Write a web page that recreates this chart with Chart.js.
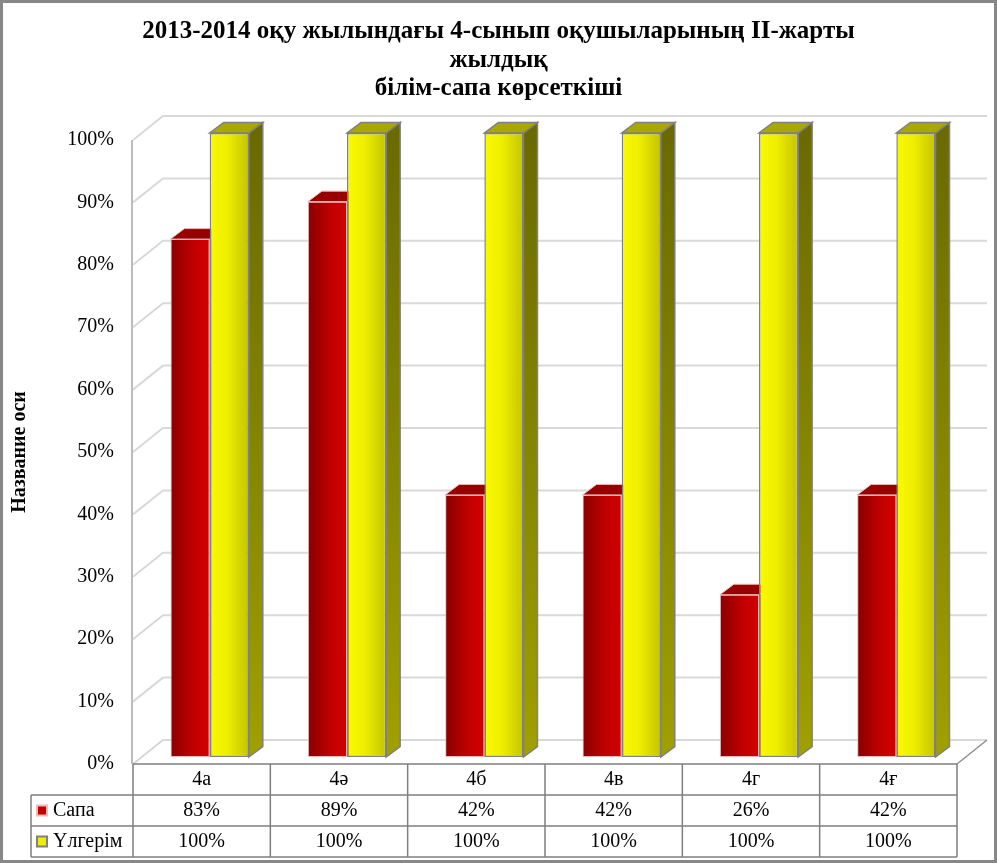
<!DOCTYPE html>
<html>
<head>
<meta charset="utf-8">
<script src="https://cdn.jsdelivr.net/npm/chart.js@4.4.1/dist/chart.umd.min.js"></script>
<style>
  body { margin: 0; background: #fff; }
  canvas { display: block; }
</style>
</head>
<body>
<canvas id="gradeChart" width="997" height="863"></canvas>
<script>
// data
const categories = ['4а', '4ә', '4б', '4в', '4г', '4ғ'];
const seriesNames = ['Сапа', 'Үлгерім'];
const sapaValues = [83, 89, 42, 42, 26, 42];
const ulgerimValues = [100, 100, 100, 100, 100, 100];
const titleLines = ['2013-2014 оқу жылындағы 4-сынып оқушыларының ІІ-жарты', 'жылдық', 'білім-сапа көрсеткіші'];
const axisTitle = 'Название оси';

// 3d look
const WALL_DX = 30, WALL_DY = -24;
const BAR_DX = 8, BAR_DY = -7;
const DEPTH_X = 14, DEPTH_Y = -10.5;
const CAT_PCT = 0.57;
const FONT = "'Liberation Serif', 'DejaVu Serif', serif";

const faceStyles = [
    { side: ['#6a0000', '#800000'], top: '#980000', edge: '#f0b8b8', key: '#c00000' },
    { side: ['#6a6a00', '#a0a000'], top: '#a8a800', edge: '#808080', key: '#eeee00' }
];

function frontFill(context, idx) {
    const chart = context.chart;
    const xs = chart.scales.x;
    if (!xs || !chart.chartArea || context.dataIndex === undefined) {
        return faceStyles[idx].key;
    }
    const c = xs.getPixelForValue(context.dataIndex);
    const w = (xs.right - xs.left) / categories.length * CAT_PCT / 2;
    const x0 = idx === 0 ? c - w : c;
    const g = chart.ctx.createLinearGradient(x0, 0, x0 + w, 0);
    if (idx === 0) {
        g.addColorStop(0, '#880000');
        g.addColorStop(0.6, '#c20000');
        g.addColorStop(1, '#d20000');
    } else {
        g.addColorStop(0, '#fafa00');
        g.addColorStop(0.45, '#eeee00');
        g.addColorStop(1, '#c4c400');
    }
    return g;
}

const depth3d = {
    id: 'depth3d',
    beforeDatasetsDraw(chart) {
        const { ctx, chartArea: a, scales: { x, y } } = chart;
        ctx.save();
        // walls grid
        ctx.strokeStyle = '#d9d9d9';
        ctx.lineWidth = 2;
        y.ticks.forEach(t => {
            const py = y.getPixelForValue(t.value);
            ctx.beginPath();
            ctx.moveTo(a.left, py);
            ctx.lineTo(a.left + WALL_DX, py + WALL_DY);
            ctx.lineTo(a.right + WALL_DX, py + WALL_DY);
            ctx.stroke();
        });
        // left wall front edge
        ctx.strokeStyle = '#a6a6a6';
        ctx.lineWidth = 1.5;
        ctx.beginPath();
        ctx.moveTo(a.left - 1, a.top);
        ctx.lineTo(a.left - 1, a.bottom);
        ctx.stroke();
        // floor edges
        ctx.strokeStyle = '#d0d0d0';
        ctx.lineWidth = 1;
        ctx.setLineDash([2, 2]);
        ctx.beginPath();
        ctx.moveTo(a.left, a.bottom);
        ctx.lineTo(a.left + WALL_DX, a.bottom + WALL_DY);
        ctx.stroke();
        ctx.setLineDash([]);
        ctx.strokeStyle = '#8c8c8c';
        ctx.lineWidth = 1.5;
        ctx.beginPath();
        ctx.moveTo(a.right, a.bottom);
        ctx.lineTo(a.right + WALL_DX, a.bottom + WALL_DY);
        ctx.stroke();
        ctx.restore();

        // bar sides and tops
        ctx.save();
        ctx.translate(BAR_DX, BAR_DY);
        chart.data.datasets.forEach((ds, di) => {
            const meta = chart.getDatasetMeta(di);
            const st = faceStyles[di];
            meta.data.forEach(bar => {
                const p = bar.getProps(['x', 'y', 'base', 'width'], true);
                const l = p.x - p.width / 2, r = p.x + p.width / 2;
                const sg = ctx.createLinearGradient(0, p.y, 0, p.base);
                sg.addColorStop(0, st.side[0]);
                sg.addColorStop(1, st.side[1]);
                ctx.fillStyle = sg;
                ctx.strokeStyle = st.edge;
                ctx.lineWidth = di === 0 ? 1 : 1.5;
                ctx.beginPath();
                ctx.moveTo(r, p.y);
                ctx.lineTo(r + DEPTH_X, p.y + DEPTH_Y);
                ctx.lineTo(r + DEPTH_X, p.base + DEPTH_Y);
                ctx.lineTo(r, p.base);
                ctx.closePath();
                ctx.fill();
                ctx.stroke();
                ctx.fillStyle = st.top;
                ctx.beginPath();
                ctx.moveTo(l, p.y);
                ctx.lineTo(r, p.y);
                ctx.lineTo(r + DEPTH_X, p.y + DEPTH_Y);
                ctx.lineTo(l + DEPTH_X, p.y + DEPTH_Y);
                ctx.closePath();
                ctx.fill();
                ctx.stroke();
            });
        });
        // the shift stays on for the front faces drawn by Chart.js
    },
    afterDatasetsDraw(chart) {
        const { ctx, chartArea: a, scales: { x } } = chart;
        ctx.restore();
        ctx.save();
        const catW = (x.right - x.left) / categories.length;
        const rowH = 31;
        const tableLeft = 31;
        const top = a.bottom;
        ctx.strokeStyle = '#7f7f7f';
        ctx.lineWidth = 1.5;
        ctx.beginPath();
        ctx.moveTo(a.left, top);
        ctx.lineTo(a.right, top);
        for (let r = 1; r <= 3; r++) {
            ctx.moveTo(tableLeft, top + r * rowH);
            ctx.lineTo(a.right, top + r * rowH);
        }
        for (let i = 0; i <= categories.length; i++) {
            ctx.moveTo(x.left + i * catW, top);
            ctx.lineTo(x.left + i * catW, top + 3 * rowH);
        }
        ctx.moveTo(tableLeft, top + rowH);
        ctx.lineTo(tableLeft, top + 3 * rowH);
        ctx.stroke();

        ctx.font = '20px ' + FONT;
        ctx.textBaseline = 'middle';
        [sapaValues, ulgerimValues].forEach((vals, di) => {
            const cy = top + (di + 1.5) * rowH;
            ctx.fillStyle = '#000';
            ctx.textAlign = 'center';
            vals.forEach((v, i) => {
                ctx.fillText(v + '%', x.getPixelForValue(i), cy);
            });
            ctx.fillStyle = faceStyles[di].key;
            ctx.strokeStyle = faceStyles[di].edge;
            ctx.lineWidth = 2;
            ctx.fillRect(tableLeft + 6, cy - 5, 10, 10);
            ctx.strokeRect(tableLeft + 6, cy - 5, 10, 10);
            ctx.fillStyle = '#000';
            ctx.textAlign = 'left';
            ctx.fillText(seriesNames[di], tableLeft + 22, cy);
        });
        ctx.restore();
    },
    afterDraw(chart) {
        const ctx = chart.ctx;
        ctx.save();
        // title
        ctx.fillStyle = '#000';
        ctx.font = 'bold 25px ' + FONT;
        ctx.textAlign = 'center';
        ctx.textBaseline = 'middle';
        titleLines.forEach((line, i) => {
            ctx.fillText(line, chart.width / 2, 32 + i * 28.5);
        });
        // outer frame
        ctx.strokeStyle = '#878787';
        ctx.lineWidth = 3;
        ctx.strokeRect(1.5, 1.5, chart.width - 3, chart.height - 3);
        ctx.restore();
    }
};

const ctx = document.getElementById('gradeChart').getContext('2d');
const gradeChart = new Chart(ctx, {
    type: 'bar',
    data: {
        labels: categories,
        datasets: [{
            label: seriesNames[0],
            data: sapaValues,
            backgroundColor: c => frontFill(c, 0),
            borderColor: faceStyles[0].edge,
            borderWidth: 1,
            borderSkipped: false,
            clip: false
        }, {
            label: seriesNames[1],
            data: ulgerimValues,
            backgroundColor: c => frontFill(c, 1),
            borderColor: faceStyles[1].edge,
            borderWidth: 1.5,
            borderSkipped: false,
            clip: false
        }]
    },
    options: {
        responsive: false,
        animation: false,
        devicePixelRatio: 1,
        datasets: {
            bar: { categoryPercentage: CAT_PCT, barPercentage: 1 }
        },
        layout: { padding: { left: 0, right: 40, top: 140, bottom: 0 } },
        plugins: {
            legend: { display: false },
            tooltip: { enabled: false },
            title: { display: false }
        },
        scales: {
            x: {
                grid: { display: false, drawTicks: false },
                border: { display: false },
                ticks: { color: '#000', font: { family: FONT, size: 20 }, padding: 4 },
                afterFit: s => { s.height = 99; }
            },
            y: {
                min: 0,
                max: 100,
                grid: { display: false, drawTicks: false },
                border: { display: false },
                ticks: {
                    stepSize: 10,
                    color: '#000',
                    padding: 19,
                    font: { family: FONT, size: 20 },
                    callback: v => v + '%'
                },
                title: {
                    display: true,
                    text: axisTitle,
                    color: '#000',
                    font: { family: FONT, size: 20, weight: 'bold' },
                    padding: { top: 8 }
                },
                afterFit: s => { s.width = 133; }
            }
        }
    },
    plugins: [depth3d]
});
</script>
</body>
</html>
